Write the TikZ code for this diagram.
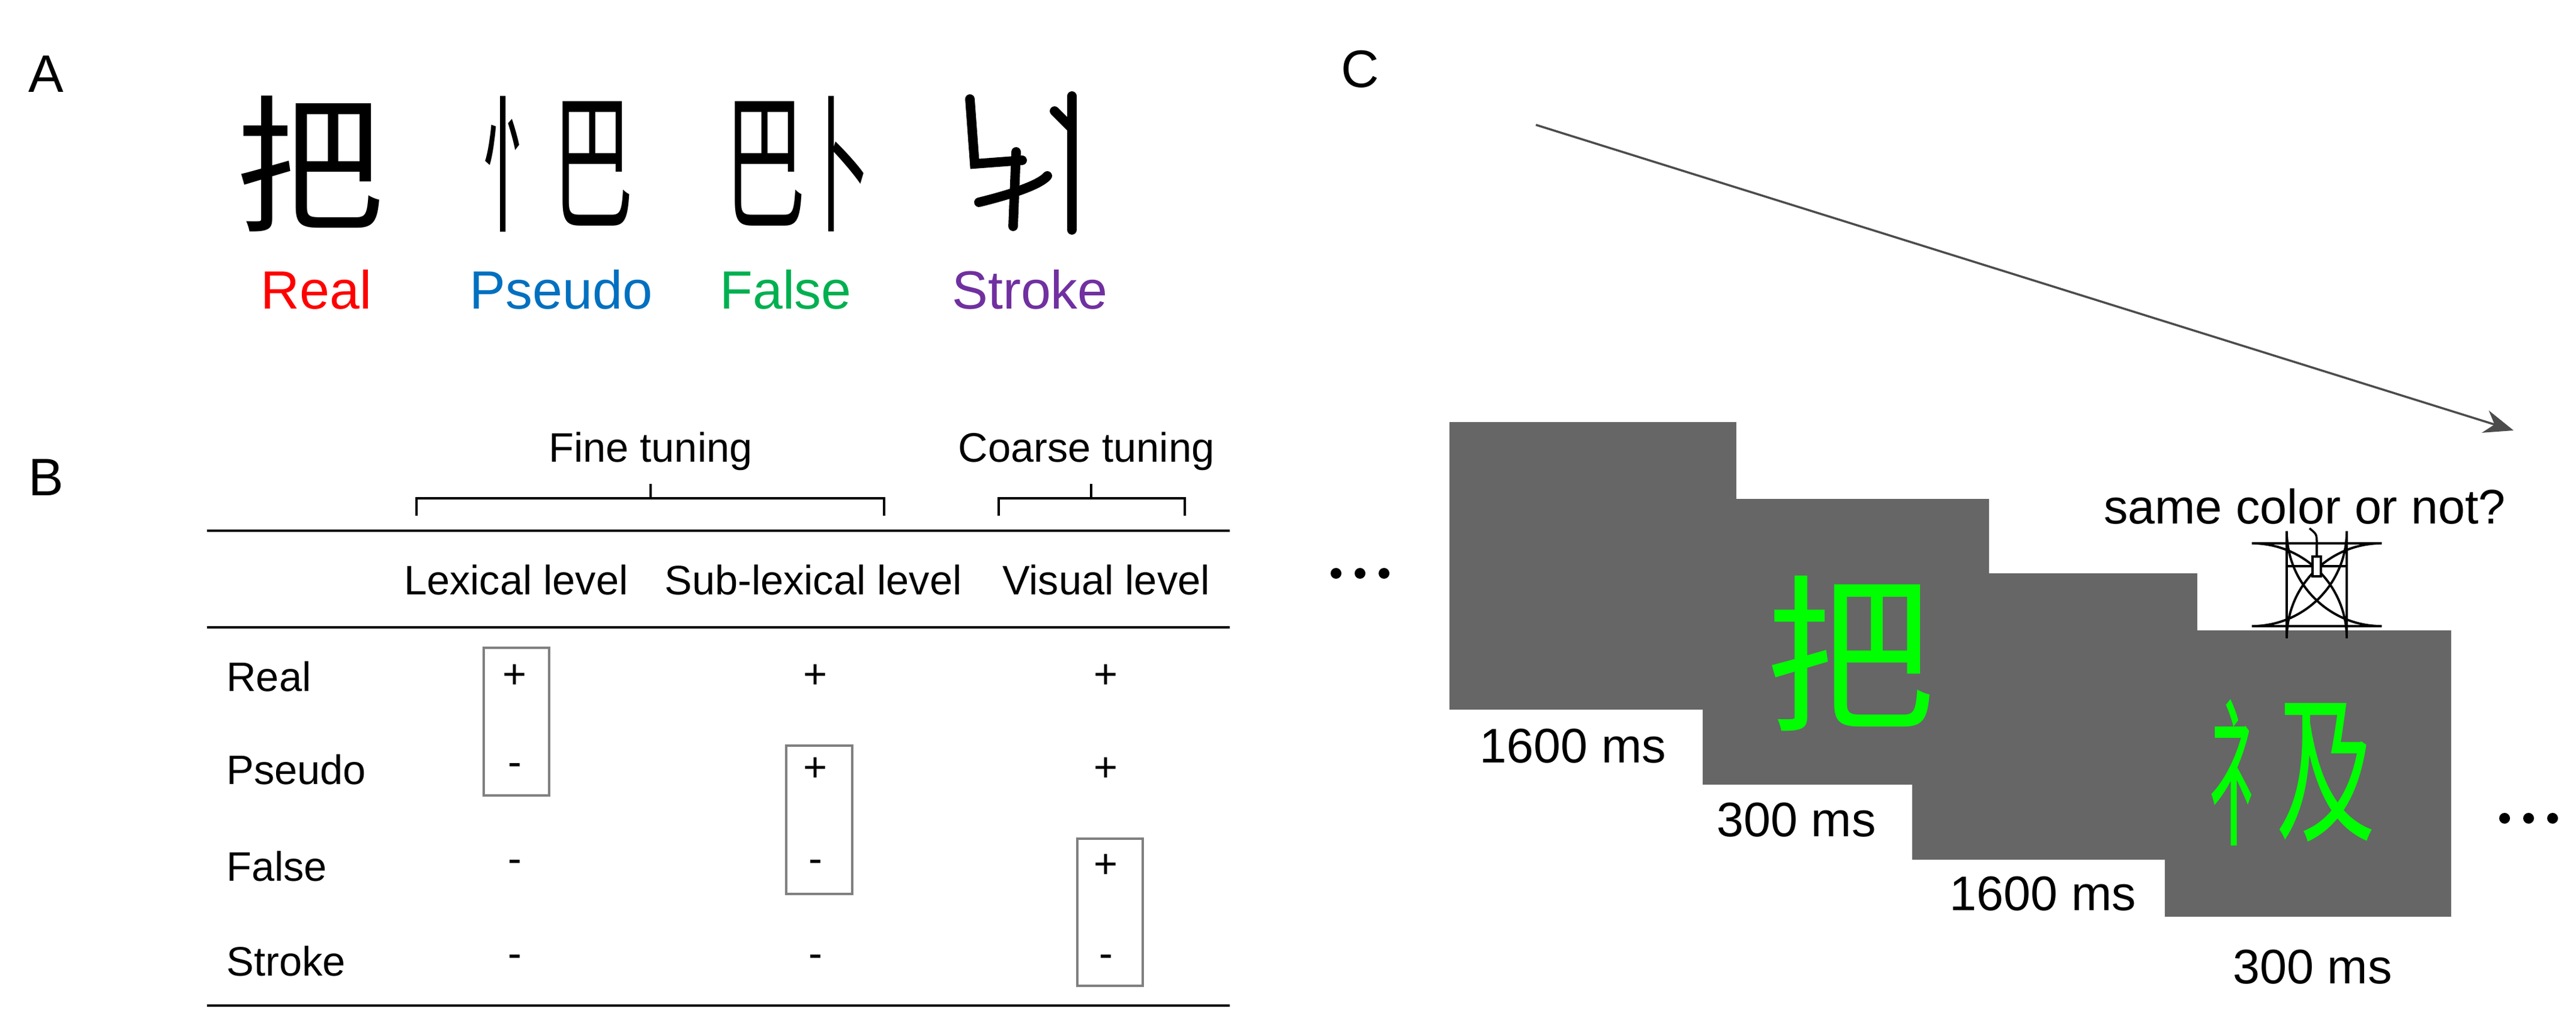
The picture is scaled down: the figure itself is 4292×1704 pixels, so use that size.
\documentclass[tikz,border=0pt]{standalone}
\usepackage{fontspec}
\setmainfont{Liberation Sans}
\newfontfamily\cjk{Noto Sans CJK SC}
\usetikzlibrary{arrows.meta}
\definecolor{scr}{HTML}{666666}
\definecolor{cred}{HTML}{FF0000}
\definecolor{cblue}{HTML}{0070C0}
\definecolor{cgreen}{HTML}{00B050}
\definecolor{cpurple}{HTML}{7030A0}
\definecolor{glgreen}{HTML}{00FF00}
\begin{document}
\begin{tikzpicture}[x=0.01cm,y=-0.01cm,
  panel/.style={font=\fontsize{25}{30}\selectfont},
  alab/.style={font=\fontsize{25.5}{30}\selectfont},
  glyph/.style={font=\cjk\fontsize{70}{80}\selectfont,inner sep=0},
  tab/.style={font=\fontsize{19.5}{24}\selectfont},
  tline/.style={line width=1.1pt},
  selbox/.style={draw=gray,line width=1.1pt},
  brace/.style={line width=0.9pt},
  timel/.style={font=\fontsize{23}{28}\selectfont},
  screen/.style={fill=scr,draw=none},
  stk/.style={line width=4.5pt,line cap=round}]
\useasboundingbox (0,0) rectangle (4292,1704);
% panel letters
\node[panel] (pA) at (77,123) {A};
\node[panel] (pB) at (77,795) {B};
\node[panel] (pC) at (2266,115) {C};
% panel A glyphs
\node[glyph] (g1) at (517,273) {把};
\node[glyph,xscale=0.48] (g2a) at (862,273) {忄};
\node[glyph,xscale=0.55] (g2b) at (988,273) {巴};
\node[glyph,xscale=0.55] (g3a) at (1275,273) {巴};
\node[glyph,xscale=0.45] (g3b) at (1395,273) {卜};
% stroke pseudo-glyph
\draw[stk] (1616,165) -- (1624,273) -- (1703,267);
\draw[stk] (1693,253) -- (1688,377);
\draw[stk] (1631,337) .. controls (1700,320) and (1735,305) .. (1745,293);
\draw[stk] (1786,160) -- (1786,383);
\draw[stk] (1757,185) -- (1784,212);
% labels A
\node[alab,text=cred] (lr) at (527,482) {Real};
\node[alab,text=cblue] (lp) at (935,482) {Pseudo};
\node[alab,text=cgreen] (lf) at (1309,482) {False};
\node[alab,text=cpurple] (ls) at (1716,482) {Stroke};
% panel B
\node[tab] (ft) at (1084,752) {Fine tuning};
\node[tab] (ct) at (1810,752) {Coarse tuning};
\draw[brace] (694,859) -- (694,830) -- (1473,830) -- (1473,859);
\draw[brace] (1084,830) -- (1084,806);
\draw[brace] (1664,859) -- (1664,830) -- (1974,830) -- (1974,859);
\draw[brace] (1818,830) -- (1818,806);
\draw[tline] (345,884) -- (2049,884);
\draw[tline] (345,1045) -- (2049,1045);
\draw[tline] (345,1675) -- (2049,1675);
\node[tab] (h1) at (860,966) {Lexical level};
\node[tab] (h2) at (1355,966) {Sub-lexical level};
\node[tab] (h3) at (1843,966) {Visual level};
\node[tab,anchor=west] (r1) at (365,1127) {Real};
\node[tab,anchor=west] (r2) at (365,1282) {Pseudo};
\node[tab,anchor=west] (r3) at (365,1443) {False};
\node[tab,anchor=west] (r4) at (365,1601) {Stroke};
\foreach \y/\a/\b/\c [count=\i] in {1127/+/+/+,1282/-/+/+,1443/-/-/+,1601/-/-/-}{
  \node[tab] (c1\i) at (858,\y) {\a};
  \node[tab] (c2\i) at (1359,\y) {\b};
  \node[tab] (c3\i) at (1843,\y) {\c};
}
\draw[selbox] (806,1079) rectangle (915,1325);
\draw[selbox] (1310,1242) rectangle (1420,1489);
\draw[selbox] (1795,1397) rectangle (1904,1642);
% panel C
\coordinate (as) at (2559,208);
\coordinate (ae) at (4188,717);
\draw[line width=1pt,draw=black!70,-{Stealth[length=14pt,width=11pt]}] (as) -- (ae);
\fill[screen] (2415,703) rectangle (2893,1182);
\fill[screen] (2837,831) rectangle (3314,1307);
\fill[screen] (3186,955) rectangle (3661,1432);
\fill[screen] (3607,1050) rectangle (4084,1527);
\node[font=\cjk\fontsize{80}{90}\selectfont,text=glgreen,inner sep=0] (s1) at (3083,1089) {把};
\node[font=\cjk\fontsize{76}{90}\selectfont,text=glgreen,inner sep=0,xscale=0.5] (s2a) at (3745,1287) {礻};
\node[font=\cjk\fontsize{76}{90}\selectfont,text=glgreen,inner sep=0,xscale=0.62] (s2b) at (3875,1287) {及};
\node[timel] (t1) at (2621,1243) {1600 ms};
\node[timel] (t2) at (2993,1366) {300 ms};
\node[timel] (t3) at (3404,1489) {1600 ms};
\node[timel] (t4) at (3853,1611) {300 ms};
\node[timel] (q) at (3840,844) {same color or not?};
% mouse
\draw[line width=1.1pt,rounded corners=45] (3810,905) rectangle (3910,1043);
\draw[line width=1.1pt] (3810,943) -- (3910,943);
\draw[line width=1.1pt] (3860,905) -- (3860,943);
\draw[line width=1pt,fill=white] (3853,927) rectangle (3867,960);
\draw[line width=1pt] (3860,905) .. controls (3860,890) .. (3848,880);
% dots
\foreach \x in {2226,2266,2306} \fill (\x,955) circle (9);
\foreach \x in {4173,4213,4253} \fill (\x,1363) circle (9);
\end{tikzpicture}
\end{document}
